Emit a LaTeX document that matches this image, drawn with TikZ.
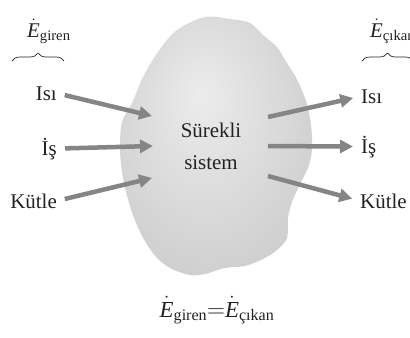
\documentclass[tikz,border=0pt]{standalone}
\usepackage{fontspec}
\setmainfont{Liberation Serif}
\usepackage{amsmath}
\usetikzlibrary{arrows.meta,decorations.pathreplacing}
\definecolor{blobedge}{HTML}{A4A4A4}
\definecolor{blobmid}{HTML}{CFCFCF}
\definecolor{blobcore}{HTML}{ECECEC}
\definecolor{flowgray}{HTML}{858585}
\definecolor{inkgray}{HTML}{222222}

% soft light spot a little above the middle of the blob
\pgfdeclareradialshading{blobshade}{\pgfpoint{-4bp}{10bp}}{%
  color(0bp)=(blobcore); color(30bp)=(blobmid); color(55bp)=(blobedge)}

\newcommand{\Erate}[1]{$\dot{\textit{E}}_{\textrm{#1}}$}

\tikzset{
  flow/.style={flowgray, line width=4.5bp, -{Triangle[length=13bp,width=13bp]}},
  lbl/.style={inner sep=0pt, text=inkgray, font=\fontsize{21}{25}\selectfont},
  curly/.style={inkgray, line width=0.7bp, decorate, decoration={brace, amplitude=8bp}}
}

\begin{document}
\begin{tikzpicture}[x=1bp, y=-1bp]
  \useasboundingbox (0,0) rectangle (410,338);

  % Steady system (irregular blob)
  \shade[shading=blobshade] plot[smooth cycle, tension=0.55] coordinates {
    (205,17) (230,19) (250,23) (263,35) (277,47) (285,60) (294,74)
    (301,88) (307,104) (311,125) (312,150) (308,168) (300,184) (292,202)
    (288,218) (287,238) (277,250) (263,259) (245,266) (225,268) (205,274)
    (190,275) (172,269) (158,259) (146,243) (136,223) (129,203) (123,178)
    (120,150) (122,122) (132,103) (143,77) (158,52) (177,30)};
  \node[lbl, align=center, font=\fontsize{21}{32}\selectfont] (sys) at (211,146) {Sürekli\\sistem};

  % Incoming side
  \node[lbl, anchor=base west] (ein) at (27,37) {\Erate{giren}};
  \coordinate (inBraceA) at (12,61);
  \coordinate (inBraceB) at (64,61);
  \draw[curly] (inBraceA) -- (inBraceB);

  \node[lbl, anchor=base east] (isiL) at (57,100) {Isı};
  \node[lbl, anchor=base east] (isL) at (57,155) {İş};
  \node[lbl, anchor=base east] (kutleL) at (57,208) {Kütle};

  \coordinate (isiIn) at (152,116);
  \coordinate (isIn) at (153,146);
  \coordinate (kutleIn) at (152,178);
  \draw[flow, shorten <=8bp] (isiL.east) -- (isiIn);
  \draw[flow, shorten <=8bp] (isL.east) -- (isIn);
  \draw[flow, shorten <=8bp] (kutleL.east) -- (kutleIn);

  % Outgoing side
  \node[lbl, anchor=base west] (eout) at (370,37) {\Erate{çıkan}};
  \coordinate (outBraceA) at (362,61);
  \coordinate (outBraceB) at (413,61);
  \draw[curly] (outBraceA) -- (outBraceB);

  \node[lbl, anchor=base west] (isiR) at (361,103) {Isı};
  \node[lbl, anchor=base west] (isR) at (361,153) {İş};
  \node[lbl, anchor=base west] (kutleR) at (360,208) {Kütle};

  \coordinate (isiOut) at (268,117);
  \coordinate (isOut) at (268,146);
  \coordinate (kutleOut) at (268,176);
  \draw[flow, shorten >=8bp] (isiOut) -- (isiR.west);
  \draw[flow, shorten >=8bp] (isOut) -- (isR.west);
  \draw[flow, shorten >=8bp] (kutleOut) -- (kutleR.west);

  % Balance
  \node[lbl, anchor=base, font=\fontsize{23}{27}\selectfont] (bal) at (217,317)
    {$\dot{\textit{E}}_{\textrm{giren}}{=}\dot{\textit{E}}_{\textrm{çıkan}}$};
\end{tikzpicture}
\end{document}
